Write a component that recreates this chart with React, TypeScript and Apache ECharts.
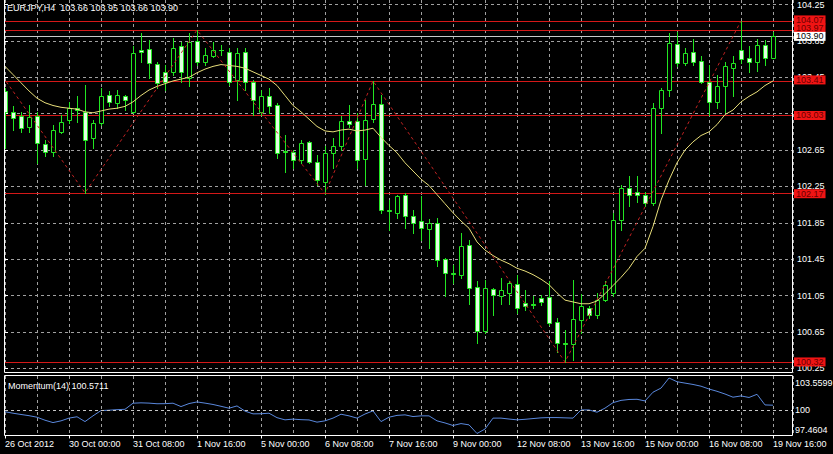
import React, { useEffect, useRef } from 'react';
import * as echarts from 'echarts';

const symbolTitle = 'EURJPY,H4';
const lastBar = ['103.66', '103.95', '103.66', '103.90'];

const opens = [103.30, 103.07, 103.02, 102.90, 103.02, 102.72, 102.63, 102.85, 102.98, 103.11,
  103.07, 102.78, 102.95, 103.25, 103.17, 103.24, 103.07, 103.75, 103.76, 103.60,
  103.51, 103.51, 103.79, 103.44, 103.85, 103.62, 103.68, 103.745, 103.73, 103.42,
  103.73, 103.40, 103.07, 103.24, 103.15, 102.64, 102.63, 102.54, 102.74, 102.52,
  102.30, 102.62, 102.69, 102.97, 102.97, 102.55, 102.99, 103.16, 101.99, 101.96,
  102.16, 101.92, 101.87, 101.78, 101.85, 101.45, 101.30, 101.28, 101.61, 101.14,
  100.66, 101.12, 101.04, 101.08, 101.18, 100.97, 100.96, 101.02, 101.03, 100.76,
  100.53, 100.52, 100.78, 100.91, 100.84, 101.00, 101.08, 101.88, 102.23, 102.19,
  102.16, 102.07, 103.11, 103.31, 103.82, 103.61, 103.73, 103.63, 103.40, 103.18,
  103.35, 103.55, 103.75, 103.66, 103.62, 103.81, 103.66];
const highs = [103.33, 103.13, 103.07, 103.14, 103.07, 102.76, 102.93, 103.03, 103.18, 103.24,
  103.37, 102.98, 103.33, 103.30, 103.31, 103.26, 103.79, 103.94, 103.86, 103.62,
  103.59, 103.88, 103.84, 103.94, 103.97, 103.77, 103.84, 103.81, 103.77, 103.77,
  103.77, 103.42, 103.31, 103.33, 103.17, 102.82, 102.65, 102.76, 102.75, 102.60,
  102.69, 102.78, 103.02, 103.14, 103.06, 103.20, 103.41, 103.26, 102.10, 102.16,
  102.18, 101.99, 102.14, 101.89, 101.90, 101.46, 101.39, 101.74, 101.66, 101.21,
  101.22, 101.13, 101.24, 101.21, 101.28, 101.11, 101.04, 101.06, 101.21, 100.80,
  100.67, 101.22, 101.07, 100.93, 101.08, 101.21, 101.96, 102.27, 102.37, 102.37,
  102.19, 103.17, 103.33, 103.94, 103.95, 103.77, 103.87, 103.68, 103.59, 103.48,
  103.62, 103.68, 104.07, 103.79, 103.87, 103.86, 103.95];
const lows = [102.67, 102.87, 102.85, 102.85, 102.51, 102.58, 102.58, 102.84, 102.95, 102.96,
  102.18, 102.67, 102.93, 103.13, 103.11, 103.09, 103.06, 103.62, 103.44, 103.33,
  103.31, 103.48, 103.40, 103.35, 103.59, 103.59, 103.67, 103.70, 103.37, 103.20,
  103.31, 103.04, 103.04, 103.06, 102.56, 102.41, 102.45, 102.51, 102.51, 102.27,
  102.17, 102.45, 102.65, 102.90, 102.45, 102.27, 102.96, 101.96, 101.77, 101.90,
  101.79, 101.74, 101.66, 101.57, 101.37, 101.04, 101.19, 101.24, 100.96, 100.53,
  100.64, 100.84, 100.96, 100.96, 100.86, 100.89, 100.91, 100.95, 100.73, 100.43,
  100.32, 100.34, 100.64, 100.80, 100.80, 100.99, 101.04, 101.77, 102.03, 102.08,
  102.03, 102.05, 102.84, 103.24, 103.57, 103.58, 103.59, 103.39, 103.03, 103.11,
  103.07, 103.24, 103.61, 103.51, 103.52, 103.59, 103.66];
const closes = [103.07, 103.00, 102.89, 103.01, 102.73, 102.63, 102.87, 102.96, 103.11, 103.09,
  102.76, 102.95, 103.24, 103.18, 103.26, 103.20, 103.72, 103.73, 103.61, 103.39,
  103.40, 103.77, 103.51, 103.84, 103.62, 103.70, 103.75, 103.755, 103.40, 103.72,
  103.40, 103.20, 103.24, 103.13, 102.62, 102.63, 102.54, 102.73, 102.52, 102.32,
  102.62, 102.69, 102.97, 102.94, 102.54, 102.98, 103.16, 101.99, 101.98, 102.15,
  101.93, 101.85, 101.79, 101.85, 101.44, 101.30, 101.29, 101.60, 101.13, 100.66,
  101.13, 101.06, 101.11, 101.19, 100.91, 100.93, 100.95, 100.98, 100.75, 100.53,
  100.52, 100.79, 100.93, 100.84, 101.00, 101.17, 101.88, 102.23, 102.16, 102.16,
  102.07, 103.11, 103.31, 103.83, 103.61, 103.72, 103.62, 103.40, 103.18, 103.35,
  103.57, 103.61, 103.65, 103.62, 103.80, 103.66, 103.90];

const maValues = [103.57, 103.48, 103.39, 103.30, 103.22, 103.17, 103.14, 103.12, 103.11, 103.10,
  103.07, 103.06, 103.08, 103.10, 103.11, 103.13, 103.18, 103.25, 103.31, 103.35,
  103.38, 103.41, 103.43, 103.45, 103.50, 103.54, 103.57, 103.59, 103.58, 103.57,
  103.55, 103.51, 103.47, 103.43, 103.36, 103.25, 103.14, 103.07, 102.99, 102.91,
  102.86, 102.85, 102.87, 102.88, 102.86, 102.87, 102.89, 102.79, 102.70, 102.62,
  102.51, 102.42, 102.33, 102.26, 102.16, 102.06, 101.96, 101.87, 101.79, 101.64,
  101.55, 101.49, 101.44, 101.40, 101.35, 101.32, 101.28, 101.23, 101.17, 101.08,
  101.00, 100.98, 100.96, 100.96, 100.99, 101.07, 101.16, 101.25, 101.35, 101.48,
  101.57, 101.81, 102.10, 102.32, 102.51, 102.65, 102.74, 102.81, 102.85, 102.93,
  103.04, 103.09, 103.18, 103.24, 103.29, 103.36, 103.41];

const momentumValues = [99.85, 99.69, 99.55, 99.42, 99.25, 98.92, 98.66, 98.85, 99.15, 99.30,
  98.77, 99.40, 99.98, 100.02, 100.08, 100.12, 100.79, 100.83, 100.80, 100.73,
  100.74, 100.79, 100.42, 100.75, 100.93, 100.80, 100.65, 100.45, 100.24, 100.49,
  99.92, 99.62, 99.63, 99.69, 99.20, 98.96, 99.04, 98.98, 98.95, 98.71,
  98.85, 99.15, 99.58, 99.40, 99.15, 99.60, 99.95, 98.77, 99.25, 99.45,
  99.51, 99.32, 99.40, 99.40, 98.85, 98.62, 98.34, 98.55, 98.41, 97.4604,
  97.95, 99.15, 99.15, 99.05, 98.96, 99.02, 99.10, 99.18, 99.21, 99.21,
  99.18, 99.15, 100.05, 100.05, 99.80, 100.25, 100.85, 101.10, 101.20, 101.22,
  101.04, 102.00, 102.45, 103.5599, 103.15, 103.00, 102.85, 102.66, 102.35, 102.10,
  101.80, 101.45, 101.59, 101.42, 101.77, 100.60, 100.5711];

const zigzagIndex = [-2, 10, 24, 40, 46, 70, 92];
const zigzagPrice = [103.67, 102.18, 103.97, 102.17, 103.41, 100.32, 104.07];

const priceTicks = [100.25, 100.65, 101.05, 101.45, 101.85, 102.25, 102.65, 103.05, 103.45, 103.85, 104.25];
const timeLabels = ['26 Oct 2012', '30 Oct 00:00', '31 Oct 08:00', '1 Nov 16:00', '5 Nov 00:00',
  '6 Nov 08:00', '7 Nov 16:00', '9 Nov 00:00', '12 Nov 08:00', '13 Nov 16:00', '15 Nov 00:00',
  '16 Nov 08:00', '19 Nov 16:00'];
const levelLines = [104.07, 103.97, 103.41, 103.03, 102.17, 100.32];
const bidPrice = 103.90;
const momentumName = 'Momentum(14)';
const momentumScaleLabels = ['103.5599', '100', '97.4604'];
const momentumLevel = 100;

// label vertical nudges (layout only) so stacked price tags don't collide, as in the terminal
const levelLabelShift = [-1, -2, -1, 0, 0, 0];

const FONT = 'Liberation Sans, Arial, sans-serif';
const GREEN = '#22e622';
const BEAR_FILL = '#e2ffe2';
const GRID_LINE = { color: '#a0a0a0', type: [3, 3] as any, width: 1 };

const renderCandle = (_params: any, api: any) => {
  const i = api.value(0);
  const o = api.value(1), h = api.value(2), l = api.value(3), c = api.value(4);
  const pO = api.coord([i, o]);
  const pC = api.coord([i, c]);
  const pH = api.coord([i, h]);
  const pL = api.coord([i, l]);
  const cx = Math.round(pO[0]) + 0.5;
  const top = Math.round(Math.min(pO[1], pC[1])) + 0.5;
  const bot = Math.round(Math.max(pO[1], pC[1])) + 0.5;
  const bull = c > o;
  const children: any[] = [
    { type: 'line', shape: { x1: cx, y1: Math.round(pH[1]), x2: cx, y2: Math.round(pL[1]) + 1 }, style: { stroke: GREEN, lineWidth: 1 } },
  ];
  if (bot - top < 1) {
    children.push({ type: 'line', shape: { x1: cx - 2.5, y1: top, x2: cx + 2.5, y2: top }, style: { stroke: GREEN, lineWidth: 1 } });
  } else {
    children.push({ type: 'rect', shape: { x: cx - 2, y: top, width: 4, height: bot - top }, style: { fill: bull ? '#000000' : BEAR_FILL, stroke: GREEN, lineWidth: 1 } });
  }
  return { type: 'group', children };
};

export default function App() {
  const ref = useRef<HTMLDivElement>(null);
  useEffect(() => {
    document.body.style.margin = '0';
    document.body.style.background = '#000';
    const chart = echarts.init(ref.current!, null, { renderer: 'svg' });
    const candleData = opens.map((o, i) => [i, o, highs[i], lows[i], closes[i]]);
    const levelItems: any[] = levelLines.map((v, k) => ({
      yAxis: v,
      lineStyle: { color: '#d41818', width: 1, type: 'solid' },
      label: {
        show: true, position: 'end', distance: 1, formatter: v.toFixed(2),
        offset: [0, levelLabelShift[k]],
        backgroundColor: '#f01414', color: '#6a0000', fontSize: 9, lineHeight: 9,
        fontFamily: FONT, padding: [0, 2, 0, 2],
      },
    }));
    levelItems.push({
      yAxis: bidPrice,
      lineStyle: { color: '#c8c8c8', width: 1, type: 'solid' },
      label: {
        show: true, position: 'end', distance: 1, formatter: bidPrice.toFixed(2),
        backgroundColor: '#ffffff', color: '#000000', fontSize: 9, lineHeight: 9,
        fontFamily: FONT, padding: [0, 2, 0, 2],
      },
    });
    const option: any = {
      animation: false,
      backgroundColor: '#000000',
      textStyle: { fontFamily: FONT },
      grid: [
        { left: 5, top: 0, width: 788, height: 372.5 },
        { left: 5, top: 376, width: 788, height: 59.5 },
      ],
      xAxis: [
        {
          type: 'value', gridIndex: 0, min: 0, max: 98.5, interval: 4,
          axisLine: { show: false }, axisTick: { show: false }, axisLabel: { show: false },
          splitLine: { show: true, lineStyle: GRID_LINE },
        },
        {
          type: 'value', gridIndex: 1, min: 0, max: 98.5, interval: 4,
          axisLine: { show: false }, axisTick: { show: false }, axisLabel: { show: false },
          splitLine: { show: true, lineStyle: GRID_LINE },
        },
        {
          type: 'value', gridIndex: 1, min: 0, max: 98.5, interval: 8, position: 'bottom',
          axisLine: { show: false },
          axisTick: { show: true, length: 3, lineStyle: { color: '#ffffff' } },
          splitLine: { show: false },
          axisLabel: {
            show: true, color: '#ffffff', fontSize: 9, fontFamily: FONT, align: 'left', margin: 4,
            showMaxLabel: false,
            formatter: (v: number) => (v % 8 === 0 && timeLabels[v / 8] ? timeLabels[v / 8] : ''),
          },
        },
      ],
      yAxis: [
        {
          type: 'value', gridIndex: 0, position: 'right', min: 100.204, max: 104.30,
          axisLine: { show: false },
          axisTick: { show: true, length: 3, customValues: priceTicks, lineStyle: { color: '#ffffff' } },
          axisLabel: {
            show: true, customValues: priceTicks, color: '#ffffff', fontSize: 9, fontFamily: FONT, margin: 4,
            formatter: (v: number) => v.toFixed(2),
          },
          splitLine: { show: true, lineStyle: GRID_LINE },
        },
        {
          type: 'value', gridIndex: 1, position: 'right', min: 97.24, max: 103.78,
          axisLine: { show: false }, axisTick: { show: false }, axisLabel: { show: false },
          splitLine: { show: false },
        },
      ],
      series: [
        {
          type: 'custom', name: 'EURJPY', xAxisIndex: 0, yAxisIndex: 0, clip: true,
          renderItem: renderCandle, data: candleData,
          encode: { x: 0, y: [1, 2, 3, 4] }, z: 2,
        },
        {
          type: 'line', name: 'MA', xAxisIndex: 0, yAxisIndex: 0, showSymbol: false, symbol: 'none',
          data: maValues.map((v, i) => [i, v]), lineStyle: { color: '#e8de7a', width: 1 }, z: 3,
          markLine: { silent: true, symbol: ['none', 'none'], data: levelItems, z: 1 },
        },
        {
          type: 'line', name: 'ZigZag', xAxisIndex: 0, yAxisIndex: 0, showSymbol: false, symbol: 'none', clip: true,
          data: zigzagIndex.map((x, k) => [x, zigzagPrice[k]]),
          lineStyle: { color: '#c02222', width: 1, type: [3, 3] }, z: 3,
        },
        {
          type: 'line', name: momentumName, xAxisIndex: 1, yAxisIndex: 1, showSymbol: false, symbol: 'none',
          data: momentumValues.map((v, i) => [i, v]), lineStyle: { color: '#5a88dc', width: 1 }, z: 3,
          markLine: {
            silent: true, symbol: ['none', 'none'], label: { show: false },
            lineStyle: { color: '#c8c8c8', width: 1, type: [3, 3] },
            data: [{ yAxis: momentumLevel }],
          },
        },
      ],
      graphic: [
        { type: 'polyline', shape: { points: [[4.5, 0], [4.5, 372.5], [792.5, 372.5], [792.5, 0]] }, style: { stroke: '#ffffff', fill: 'none', lineWidth: 1 }, z: 10 },
        { type: 'rect', shape: { x: 4.5, y: 375.5, width: 788, height: 60 }, style: { stroke: '#ffffff', fill: 'none', lineWidth: 1 }, z: 10 },
        { type: 'text', x: 7, y: 7.5, style: { text: `${symbolTitle}  ${lastBar.join(' ')}`, fill: '#ffffff', fontSize: 9, fontFamily: FONT, verticalAlign: 'middle' }, z: 10 },
        { type: 'text', x: 8, y: 386, style: { text: `${momentumName} ${momentumValues[momentumValues.length - 1].toFixed(4)}`, fill: '#ffffff', fontSize: 9, fontFamily: FONT, verticalAlign: 'middle' }, z: 10 },
        { type: 'text', x: 795, y: 383, style: { text: momentumScaleLabels[0], fill: '#ffffff', fontSize: 9, fontFamily: FONT, verticalAlign: 'middle' }, z: 10 },
        { type: 'text', x: 795, y: 409.5, style: { text: momentumScaleLabels[1], fill: '#ffffff', fontSize: 9, fontFamily: FONT, verticalAlign: 'middle' }, z: 10 },
        { type: 'text', x: 795, y: 429.5, style: { text: momentumScaleLabels[2], fill: '#ffffff', fontSize: 9, fontFamily: FONT, verticalAlign: 'middle' }, z: 10 },
      ],
    };
    chart.setOption(option);
    return () => chart.dispose();
  }, []);
  return <div ref={ref} style={{ position: 'absolute', left: 0, top: 0, width: 833, height: 454, background: '#000' }} />;
}
